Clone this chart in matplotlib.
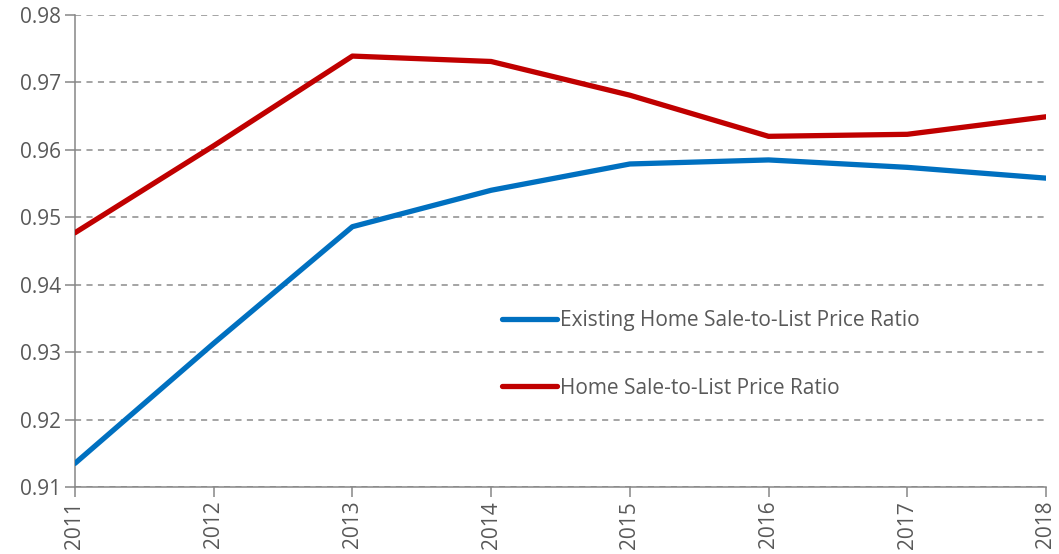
import matplotlib.pyplot as plt

years = ['2011', '2012', '2013', '2014', '2015', '2016', '2017', '2018']
existing_ratio = [0.9135, 0.9313, 0.9486, 0.9540, 0.9579, 0.9585, 0.9574, 0.9558]
home_ratio = [0.9477, 0.9606, 0.9739, 0.9731, 0.9681, 0.9620, 0.9623, 0.9649]

plt.rcParams['font.family'] = ['Open Sans', 'DejaVu Sans']
grey = '#595959'

fig = plt.figure(figsize=(10.59, 5.54), dpi=100)
ax = fig.add_axes([0.0708, 0.121, 0.9169, 0.852])

x = range(len(years))
ax.plot(x, existing_ratio, color='#0070C0', lw=3.8, solid_capstyle='round',
        label='Existing Home Sale-to-List Price Ratio', zorder=3)
ax.plot(x, home_ratio, color='#C00000', lw=3.8, solid_capstyle='round',
        label='Home Sale-to-List Price Ratio', zorder=3)

ax.set_xlim(0, len(years) - 1)
ax.set_ylim(0.91, 0.98)
ax.set_yticks([0.91, 0.92, 0.93, 0.94, 0.95, 0.96, 0.97, 0.98])
ax.set_yticklabels(['0.91', '0.92', '0.93', '0.94', '0.95', '0.96', '0.97', '0.98'])
ax.set_xticks(list(x))
ax.set_xticklabels(years, rotation=90)

ax.grid(axis='y', color='#8c8c8c', linestyle=(0, (4, 3.5)), lw=1.1)
ax.set_axisbelow(True)
for s in ['top', 'right']:
    ax.spines[s].set_visible(False)
for s in ['left', 'bottom']:
    ax.spines[s].set_color('#868686')
    ax.spines[s].set_linewidth(1.1)
ax.tick_params(axis='both', colors='#868686', labelcolor=grey, labelsize=15,
               length=7, width=1.1, direction='out')
ax.tick_params(axis='y', pad=3)
ax.tick_params(axis='x', pad=3)

leg = ax.legend(loc='upper left', bbox_to_anchor=(0.42, 0.415), frameon=False,
                fontsize=15, labelcolor=grey, handlelength=2.65, handletextpad=0.15,
                labelspacing=2.25)

fig.savefig('out.png', dpi=100)
